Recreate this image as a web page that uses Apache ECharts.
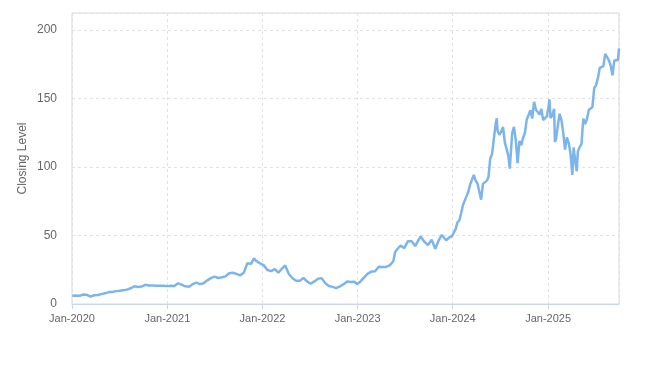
<!DOCTYPE html>
<html>
<head>
<meta charset="utf-8">
<script src="https://cdn.jsdelivr.net/npm/echarts@6/dist/echarts.min.js"></script>
<style>html,body{margin:0;padding:0;background:#fff;}#c{width:663px;height:367px;}</style>
</head>
<body>
<div id="c"></div>
<script>
const dates = [
'2020-01-02','2020-01-16','2020-01-30','2020-02-13','2020-02-20','2020-02-27','2020-03-12','2020-03-16','2020-03-26','2020-04-09','2020-04-23','2020-05-07','2020-05-21','2020-06-04','2020-06-18','2020-07-02','2020-07-16','2020-07-30','2020-08-13','2020-08-27','2020-09-03','2020-09-10','2020-09-24','2020-10-08','2020-10-22','2020-11-05','2020-11-19','2020-12-03','2020-12-17','2020-12-31',
'2021-01-14','2021-01-28','2021-02-11','2021-02-25','2021-03-11','2021-03-25','2021-04-08','2021-04-22','2021-05-06','2021-05-20','2021-06-03','2021-06-17','2021-07-01','2021-07-15','2021-07-29','2021-08-12','2021-08-26','2021-09-09','2021-09-23','2021-10-07','2021-10-21','2021-11-04','2021-11-18','2021-11-29','2021-12-09','2021-12-23',
'2022-01-06','2022-01-20','2022-02-03','2022-02-17','2022-03-03','2022-03-17','2022-03-29','2022-04-12','2022-04-26','2022-05-10','2022-05-24','2022-06-07','2022-06-21','2022-07-05','2022-07-19','2022-08-02','2022-08-16','2022-08-30','2022-09-13','2022-09-27','2022-10-11','2022-10-25','2022-11-08','2022-11-22','2022-12-06','2022-12-20','2022-12-30',
'2023-01-12','2023-01-26','2023-02-09','2023-02-23','2023-03-09','2023-03-23','2023-04-06','2023-04-20','2023-05-04','2023-05-18','2023-05-25','2023-06-01','2023-06-15','2023-06-29','2023-07-13','2023-07-27','2023-08-10','2023-08-24','2023-08-31','2023-09-14','2023-09-28','2023-10-12','2023-10-26','2023-11-09','2023-11-20','2023-12-07','2023-12-21','2023-12-29',
'2024-01-05','2024-01-12','2024-01-19','2024-01-26','2024-02-02','2024-02-09','2024-02-16','2024-02-23','2024-03-01','2024-03-08','2024-03-15','2024-03-22','2024-03-28','2024-04-05','2024-04-12','2024-04-19','2024-04-26','2024-05-03','2024-05-10','2024-05-17','2024-05-24','2024-05-31','2024-06-07','2024-06-14','2024-06-18','2024-06-21','2024-06-28','2024-07-05','2024-07-12','2024-07-19','2024-07-26','2024-08-02','2024-08-07','2024-08-09','2024-08-16','2024-08-23','2024-08-30','2024-09-06','2024-09-13','2024-09-20','2024-09-27','2024-10-04','2024-10-11','2024-10-18','2024-10-25','2024-11-01','2024-11-08','2024-11-15','2024-11-22','2024-11-29','2024-12-06','2024-12-13','2024-12-20','2024-12-27',
'2025-01-03','2025-01-06','2025-01-10','2025-01-17','2025-01-24','2025-01-27','2025-01-31','2025-02-07','2025-02-14','2025-02-21','2025-02-28','2025-03-07','2025-03-14','2025-03-21','2025-03-28','2025-04-04','2025-04-09','2025-04-11','2025-04-17','2025-04-21','2025-04-25','2025-05-02','2025-05-09','2025-05-16','2025-05-23','2025-05-30','2025-06-06','2025-06-13','2025-06-20','2025-06-27','2025-07-03','2025-07-11','2025-07-18','2025-07-25','2025-08-01','2025-08-08','2025-08-15','2025-08-22','2025-08-29','2025-09-05','2025-09-12','2025-09-19','2025-09-26','2025-09-30'
];
const closes = [
5.97,6.23,5.95,6.9,7.8,6.7,5.4,4.9,6.4,6.6,7.2,7.8,8.7,8.8,9.4,9.7,10.1,10.5,11.5,12.9,13.8,12.4,12.7,14.0,13.5,13.6,13.3,13.3,13.3,13.05,
13.3,13.1,15.1,14.1,12.9,12.6,14.5,15.6,14.5,15.2,17.3,18.9,20.0,19.0,19.5,20.2,22.5,22.8,22.0,20.9,22.8,29.8,29.3,33.3,31.3,29.6,
28.2,24.8,24.0,25.5,22.9,25.9,28.1,21.9,18.8,17.0,16.9,19.0,16.5,14.8,16.5,18.5,18.9,15.1,13.1,12.5,11.6,12.8,14.5,16.5,16.0,16.2,14.6,
16.5,19.4,22.2,23.7,23.9,27.2,27.0,27.1,28.2,31.2,37.9,39.8,42.7,40.8,45.9,45.9,42.3,47.2,49.3,45.5,43.0,46.9,40.3,46.9,50.4,46.6,48.9,49.5,
49.0,54.7,59.5,61.0,66.1,72.1,72.6,78.8,82.2,87.5,87.9,94.3,90.4,88.0,88.1,76.2,87.7,88.8,89.9,92.5,106.5,109.6,120.9,131.9,135.6,126.6,123.5,125.8,129.2,117.9,113.1,107.3,98.9,104.8,124.6,129.4,119.4,102.8,119.1,116.0,121.4,124.9,134.8,138.0,141.5,135.4,147.6,142.0,141.9,138.3,142.4,134.3,134.7,137.0,
144.5,149.4,135.9,137.7,142.6,118.4,120.1,129.8,138.9,134.4,124.9,112.7,121.7,117.7,109.7,94.3,114.3,110.9,101.5,96.9,111.4,114.5,116.7,135.4,131.3,135.1,141.7,142.0,143.9,157.8,159.3,164.9,172.4,173.5,173.7,182.7,180.5,178.0,174.2,167.0,177.8,176.7,178.2,186.6
];
const yTicks = [0, 50, 100, 150, 200];

const chart = echarts.init(document.getElementById('c'), null, {renderer: 'canvas'});
chart.setOption({
  animation: false,
  backgroundColor: '#fff',
  grid: {left: 72, right: 44, top: 13, bottom: 63, show: true, borderColor: '#d9d9d9', borderWidth: 1},
  xAxis: {
    type: 'time',
    min: '2020-01-01',
    max: '2025-09-30',
    splitNumber: 6,
    minInterval: 365 * 24 * 3600 * 1000,
    axisLine: {show: true, lineStyle: {color: '#ccd6eb', width: 1}},
    axisTick: {show: true, length: 5, lineStyle: {color: '#ccd6eb'}},
    axisLabel: {
      color: '#666', fontSize: 11, margin: 9, fontFamily: 'Arial, "Liberation Sans", sans-serif',
      formatter: function (v) { const d = new Date(v); return d.getMonth() === 0 ? 'Jan-' + d.getFullYear() : ''; }
    },
    splitLine: {show: true, lineStyle: {color: '#e2e2e2', type: [3, 3]}}
  },
  yAxis: {
    type: 'value',
    min: yTicks[0],
    max: 212.5,
    interval: 50,
    name: 'Closing Level',
    nameLocation: 'middle',
    nameGap: 43,
    nameMoveOverlap: false,
    nameTextStyle: {color: '#666', fontSize: 12, fontFamily: 'Arial, "Liberation Sans", sans-serif'},
    axisLine: {show: false},
    axisTick: {show: false},
    axisLabel: {color: '#666', fontSize: 12, margin: 15, showMaxLabel: false, fontFamily: 'Arial, "Liberation Sans", sans-serif'},
    splitLine: {show: true, lineStyle: {color: '#e2e2e2', type: [3, 3]}}
  },
  series: [{
    type: 'line',
    data: dates.map((d, i) => [d, closes[i]]),
    showSymbol: false,
    lineStyle: {color: '#7cb5ec', width: 2.5},
    itemStyle: {color: '#7cb5ec'}
  }]
});
</script>
</body>
</html>
